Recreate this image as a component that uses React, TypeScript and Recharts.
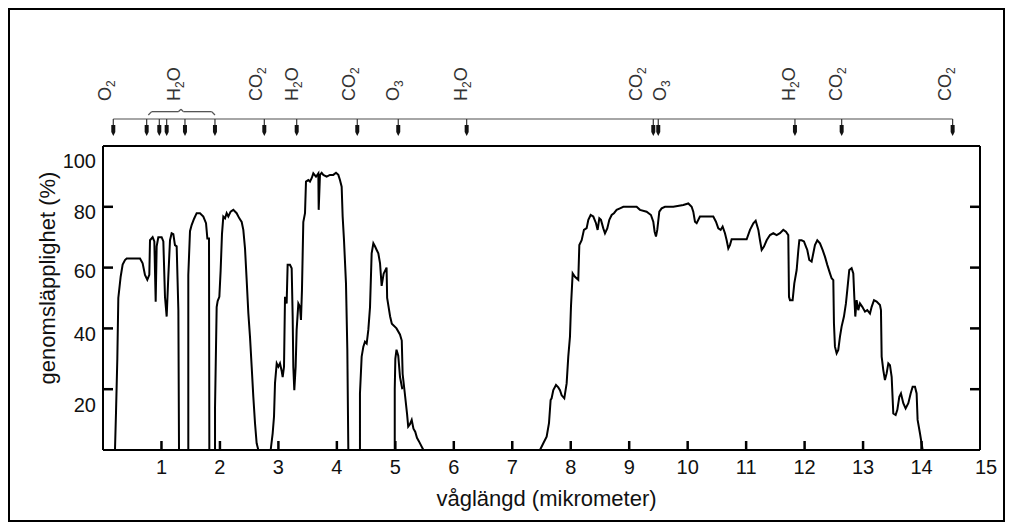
import { LineChart, Line, XAxis, YAxis, ReferenceLine, Label } from "recharts"

// transmission windows, [wavelength µm, transmission %]
const win1: [number, number][] = [
  [0.205, 0], [0.222, 12], [0.245, 30], [0.262, 50], [0.302, 57], [0.336, 61], [0.376, 62.5], [0.405, 63],
  [0.633, 63], [0.678, 61.4], [0.718, 57.6], [0.758, 56], [0.792, 57.6], [0.804, 69], [0.849, 70], [0.878, 68.6],
  [0.901, 48.8], [0.918, 67], [0.946, 70], [1.003, 70], [1.032, 68.6], [1.06, 50.4], [1.089, 43.9], [1.117, 57],
  [1.146, 69], [1.174, 71.3], [1.203, 71], [1.231, 67.4], [1.26, 67], [1.289, 46], [1.3, 0],
]
const win2: [number, number][] = [
  [1.459, 0], [1.459, 57.6], [1.488, 72], [1.516, 74], [1.556, 76], [1.602, 77.9], [1.659, 77.9], [1.716, 76.8],
  [1.762, 74.6], [1.785, 69.6], [1.813, 69.6], [1.819, 0],
]
const win3: [number, number][] = [
  [1.916, 0], [1.916, 14], [1.944, 47], [1.961, 49], [1.99, 50.4], [2.012, 59], [2.035, 71], [2.058, 76.8],
  [2.087, 76.2], [2.115, 77.9], [2.144, 76.8], [2.183, 78.4], [2.229, 79], [2.286, 77.9], [2.332, 76.2], [2.372, 75],
  [2.4, 72.4], [2.429, 66.3], [2.457, 56], [2.486, 45], [2.514, 37.3], [2.543, 27.4], [2.571, 17.5], [2.6, 8.8],
  [2.628, 2.2], [2.657, 0],
]
const win4: [number, number][] = [
  [2.868, 0], [2.902, 5.5], [2.925, 11], [2.942, 22], [2.971, 28.5], [2.999, 27.4], [3.027, 28.5], [3.056, 26],
  [3.073, 24], [3.096, 27.4], [3.113, 50.4], [3.141, 48.2], [3.158, 60.9], [3.198, 60.9], [3.227, 59.8], [3.244, 43.9],
  [3.255, 27.4], [3.272, 19.7], [3.295, 27.4], [3.312, 39.5], [3.341, 48.2], [3.369, 47.1], [3.386, 42.8], [3.403, 52.6],
  [3.426, 75], [3.455, 77.9], [3.472, 88.3], [3.512, 88.8], [3.54, 88.3], [3.569, 89.4], [3.597, 91], [3.643, 89.9],
  [3.683, 91], [3.689, 79], [3.711, 90.5], [3.74, 91.2], [3.768, 90.5], [3.825, 89.9], [3.882, 90.5], [3.939, 90.5],
  [3.985, 91.2], [4.025, 90.5], [4.053, 88.8], [4.082, 86.6], [4.099, 76.8], [4.122, 69], [4.156, 54.8], [4.179, 32.9],
  [4.196, 0],
]
const win5: [number, number][] = [
  [4.395, 0], [4.395, 18.6], [4.424, 30.7], [4.453, 34], [4.481, 35.6], [4.51, 35], [4.538, 39.5], [4.567, 47],
  [4.595, 64.7], [4.624, 68], [4.652, 67], [4.681, 65.8], [4.709, 64.7], [4.738, 61.5], [4.766, 54], [4.8, 58],
  [4.85, 60], [4.86, 50], [4.91, 44], [4.94, 41.5], [5.02, 40], [5.079, 38], [5.11, 36], [5.125, 25], [5.16, 19],
  [5.2, 12], [5.22, 7.7], [5.25, 8.5], [5.28, 9.9], [5.31, 7], [5.34, 6], [5.37, 4], [5.4, 3], [5.48, 0],
]
const win5b: [number, number][] = [
  [4.99, 0], [4.99, 20], [5.0, 30], [5.02, 33], [5.05, 31], [5.08, 24], [5.12, 20],
]
const win6: [number, number][] = [
  [7.474, 0], [7.531, 2.2], [7.588, 4.4], [7.628, 8.8], [7.656, 16.4], [7.673, 17], [7.702, 19.7], [7.748, 21.4],
  [7.787, 20.6], [7.816, 19.7], [7.845, 18], [7.89, 17], [7.93, 21.9], [7.958, 30.7], [7.987, 37.3], [8.004, 47.1],
  [8.033, 58.1], [8.072, 57], [8.129, 56], [8.147, 67.4], [8.187, 69], [8.226, 72.4], [8.272, 73], [8.301, 75.7],
  [8.341, 77.3], [8.386, 76.8], [8.432, 74.6], [8.46, 72.4], [8.489, 76.2], [8.517, 75.7], [8.557, 72.9], [8.586, 71.3],
  [8.625, 72.9], [8.66, 75.7], [8.7, 77.3], [8.739, 77.9], [8.785, 79], [8.842, 79.5], [8.899, 80], [9.127, 80],
  [9.184, 79], [9.298, 78.4], [9.372, 77.3], [9.412, 75.1], [9.435, 71.8], [9.458, 70.2], [9.48, 72.4], [9.515, 78.4],
  [9.555, 79.5], [9.612, 80], [9.754, 80], [9.925, 80.6], [10.011, 81.1], [10.068, 80], [10.096, 78.4], [10.125, 75.1],
  [10.154, 74.6], [10.21, 76.8], [10.438, 76.8], [10.484, 75.1], [10.524, 72.9], [10.564, 72.4], [10.598, 73.5],
  [10.638, 71.3], [10.667, 69], [10.695, 66.3], [10.723, 67.4], [10.752, 69.3], [11.009, 69.3], [11.066, 72.4],
  [11.123, 74.6], [11.163, 75.4], [11.209, 72.4], [11.237, 69], [11.266, 65.8], [11.305, 66.9], [11.351, 69],
  [11.408, 70.7], [11.465, 71.3], [11.522, 70.7], [11.579, 71.3], [11.636, 72.4], [11.681, 71.8], [11.721, 70.7],
  [11.733, 50.4], [11.75, 49.3], [11.795, 49.3], [11.824, 54.8], [11.864, 59.2], [11.893, 65.8], [11.91, 69],
  [11.949, 69], [11.989, 68.6], [12.023, 66.9], [12.046, 65.8], [12.08, 62.5], [12.12, 62], [12.149, 64.7],
  [12.177, 67.4], [12.217, 69], [12.263, 68], [12.308, 65.8], [12.348, 63.6], [12.388, 60.9], [12.434, 58.1],
  [12.462, 56.5], [12.491, 55.9], [12.502, 41.7], [12.519, 34], [12.548, 31.8], [12.576, 32.9], [12.605, 37.3],
  [12.633, 40.6], [12.673, 43.9], [12.707, 48.2], [12.73, 52.6], [12.764, 59.2], [12.804, 59.8], [12.833, 58.1],
  [12.85, 50.4], [12.867, 43.9], [12.89, 49.3], [12.918, 46], [12.947, 48.2], [12.987, 47.1], [13.033, 45.5],
  [13.072, 46], [13.118, 44.9], [13.147, 47.1], [13.187, 49.3], [13.232, 48.8], [13.289, 47.7], [13.306, 46],
  [13.318, 30.7], [13.346, 26.3], [13.374, 23], [13.403, 25.2], [13.432, 28.5], [13.46, 27.9], [13.489, 24.1],
  [13.517, 12], [13.557, 11.5], [13.586, 13.2], [13.62, 17.5], [13.648, 18.6], [13.688, 15.4], [13.728, 13.7],
  [13.774, 15.4], [13.814, 18.6], [13.848, 20.8], [13.888, 20.8], [13.916, 18.6], [13.933, 9.9], [13.973, 5.5],
  [14.019, 0],
]
const windows = [win1, win2, win3, win4, win5, win5b]

const xTicks = [1, 2, 3, 4, 5, 6, 7, 8, 9, 10, 11, 12, 13, 14, 15]
const yTicks = [20, 40, 60, 80, 100]

// absorption bands marked above the plot
const arrowAt = [0.176, 0.747, 0.963, 1.089, 1.402, 1.915, 2.759, 3.313, 4.349, 5.05, 6.22, 9.412, 9.497, 11.835, 12.634, 14.532]
const gasNames = ["O2", "H2O", "CO2", "H2O", "CO2", "O3", "H2O", "CO2", "O3", "H2O", "CO2", "CO2"]
const gasAt = [0.142, 1.317, 2.719, 3.34, 4.315, 5.057, 6.234, 9.227, 9.629, 11.84, 12.639, 14.503]
const stripLevel = 108.9
const braceLine: [number, number][] = [
  [0.775, 110.2], [0.832, 111.3], [1.288, 111.3], [1.334, 112.1], [1.374, 111.3], [1.859, 111.3], [1.915, 110.2],
]

const toPts = (a: [number, number][]) => a.map(([w, t]) => ({ w, t }))

const yNudge: Record<number, number> = { 100: 15, 80: 5, 60: 3, 40: 6, 20: 16 }

function BottomTick({ x, y, payload }: any) {
  const v = payload.value
  return (
    <g>
      {v < 15 && <line x1={x} x2={x} y1={y} y2={y - 9} stroke="#000" strokeWidth={2.5} />}
      <text x={x + (v === 15 ? 6 : 0)} y={y + 24} textAnchor="middle" fontSize={20} fill="#111">
        {v}
      </text>
    </g>
  )
}

function LeftTick({ x, y, payload }: any) {
  const v = payload.value
  return (
    <g>
      {v < 100 && <line x1={x} x2={x + 10} y1={y} y2={y} stroke="#000" strokeWidth={2.5} />}
      <text x={x - 7} y={y + 7 + (yNudge[v] || 0)} textAnchor="end" fontSize={20} fill="#111">
        {v}
      </text>
    </g>
  )
}

function RightTick({ x, y, payload }: any) {
  if (payload.value >= 100) return <g />
  return <line x1={x - 10} x2={x} y1={y} y2={y} stroke="#000" strokeWidth={2.5} />
}

function GasLabel({ x, y, name }: { x: number; y: number; name: string }) {
  const parts = name.split(/(\d)/).filter(Boolean)
  let sub = false
  return (
    <text x={x} y={y} dy={6.5} transform={`rotate(-90 ${x} ${y})`} fontSize={18} fill="#333">
      {parts.map((p, i) => {
        const isNum = /\d/.test(p)
        const shift = isNum ? 4 : sub ? -4 : 0
        sub = isNum
        return (
          <tspan key={i} dy={shift} fontSize={isNum ? 12 : 18}>
            {p}
          </tspan>
        )
      })}
    </text>
  )
}

function TopTick({ x, y, payload }: any) {
  const v = payload.value
  const gi = gasAt.indexOf(v)
  if (gi >= 0) return <GasLabel x={x} y={y - 45} name={gasNames[gi]} />
  return (
    <g>
      <line x1={x} x2={x} y1={y - 27} y2={y - 14} stroke="#333" strokeWidth={1.2} />
      <polygon
        points={`${x - 2},${y - 21} ${x + 2},${y - 21} ${x + 2},${y - 14} ${x},${y - 10} ${x - 2},${y - 14}`}
        fill="#111"
      />
    </g>
  )
}

function YTitle(props: any) {
  const vb = props.viewBox || { x: 13, y: 136, width: 80, height: 304 }
  const cx = vb.x + 25
  const cy = vb.y + vb.height / 2 - 20
  return (
    <text x={cx} y={cy} dy={7} transform={`rotate(-90 ${cx} ${cy})`} textAnchor="middle" fontSize={22} fill="#111">
      genomsläpplighet (%)
    </text>
  )
}

function XTitle(props: any) {
  const vb = props.viewBox || { x: 93, y: 440, width: 877, height: 70 }
  return (
    <text x={vb.x + vb.width / 2 + 5} y={vb.y + 56} textAnchor="middle" fontSize={22} fill="#111">
      våglängd (mikrometer)
    </text>
  )
}

const lineStyle = { stroke: "#000", strokeWidth: 2 }

export default function App() {
  return (
    <div
      style={{
        width: 997,
        height: 514,
        border: "2px solid #000",
        boxSizing: "border-box",
        fontFamily: "'Liberation Sans', Arial, sans-serif",
        background: "#fff",
      }}
    >
      <LineChart width={993} height={510} margin={{ top: 10, right: 22, bottom: 0, left: 13 }}>
        <XAxis
          dataKey="w"
          type="number"
          domain={[0, 15]}
          ticks={xTicks}
          interval={0}
          height={70}
          tickSize={0}
          tickMargin={0}
          tickLine={false}
          axisLine={lineStyle}
          tick={<BottomTick />}
        >
          <Label content={<XTitle />} />
        </XAxis>
        <XAxis
          xAxisId="top"
          dataKey="w"
          orientation="top"
          type="number"
          domain={[0, 15]}
          ticks={[...arrowAt, ...gasAt]}
          interval={0}
          height={126}
          tickSize={0}
          tickMargin={0}
          tickLine={false}
          axisLine={lineStyle}
          tick={<TopTick />}
        />
        <YAxis
          type="number"
          domain={[0, 100]}
          ticks={yTicks}
          interval={0}
          width={80}
          tickSize={0}
          tickMargin={0}
          tickLine={false}
          axisLine={lineStyle}
          tick={<LeftTick />}
        >
          <Label content={<YTitle />} />
        </YAxis>
        <YAxis
          yAxisId="r"
          orientation="right"
          type="number"
          domain={[0, 100]}
          ticks={yTicks}
          interval={0}
          width={1}
          tickSize={0}
          tickMargin={0}
          tickLine={false}
          axisLine={lineStyle}
          tick={<RightTick />}
        />
        <ReferenceLine
          segment={[{ x: arrowAt[0], y: stripLevel }, { x: arrowAt[arrowAt.length - 1], y: stripLevel }]}
          stroke="#888"
          strokeWidth={1.5}
          ifOverflow="visible"
        />
        {braceLine.slice(1).map((p, i) => (
          <ReferenceLine
            key={"b" + i}
            segment={[{ x: braceLine[i][0], y: braceLine[i][1] }, { x: p[0], y: p[1] }]}
            stroke="#555"
            strokeWidth={1.3}
            ifOverflow="visible"
          />
        ))}
        {windows.map((win, i) => (
          <Line
            key={i}
            data={toPts(win)}
            dataKey="t"
            type="linear"
            stroke="#000"
            strokeWidth={2}
            dot={false}
            activeDot={false}
            isAnimationActive={false}
          />
        ))}
        {/* the long 8-14 µm window is drawn on the top/right axes (same scale) so those axes get ticks */}
        <Line
          data={toPts(win6)}
          xAxisId="top"
          yAxisId="r"
          dataKey="t"
          type="linear"
          stroke="#000"
          strokeWidth={2}
          dot={false}
          activeDot={false}
          isAnimationActive={false}
        />
      </LineChart>
    </div>
  )
}
